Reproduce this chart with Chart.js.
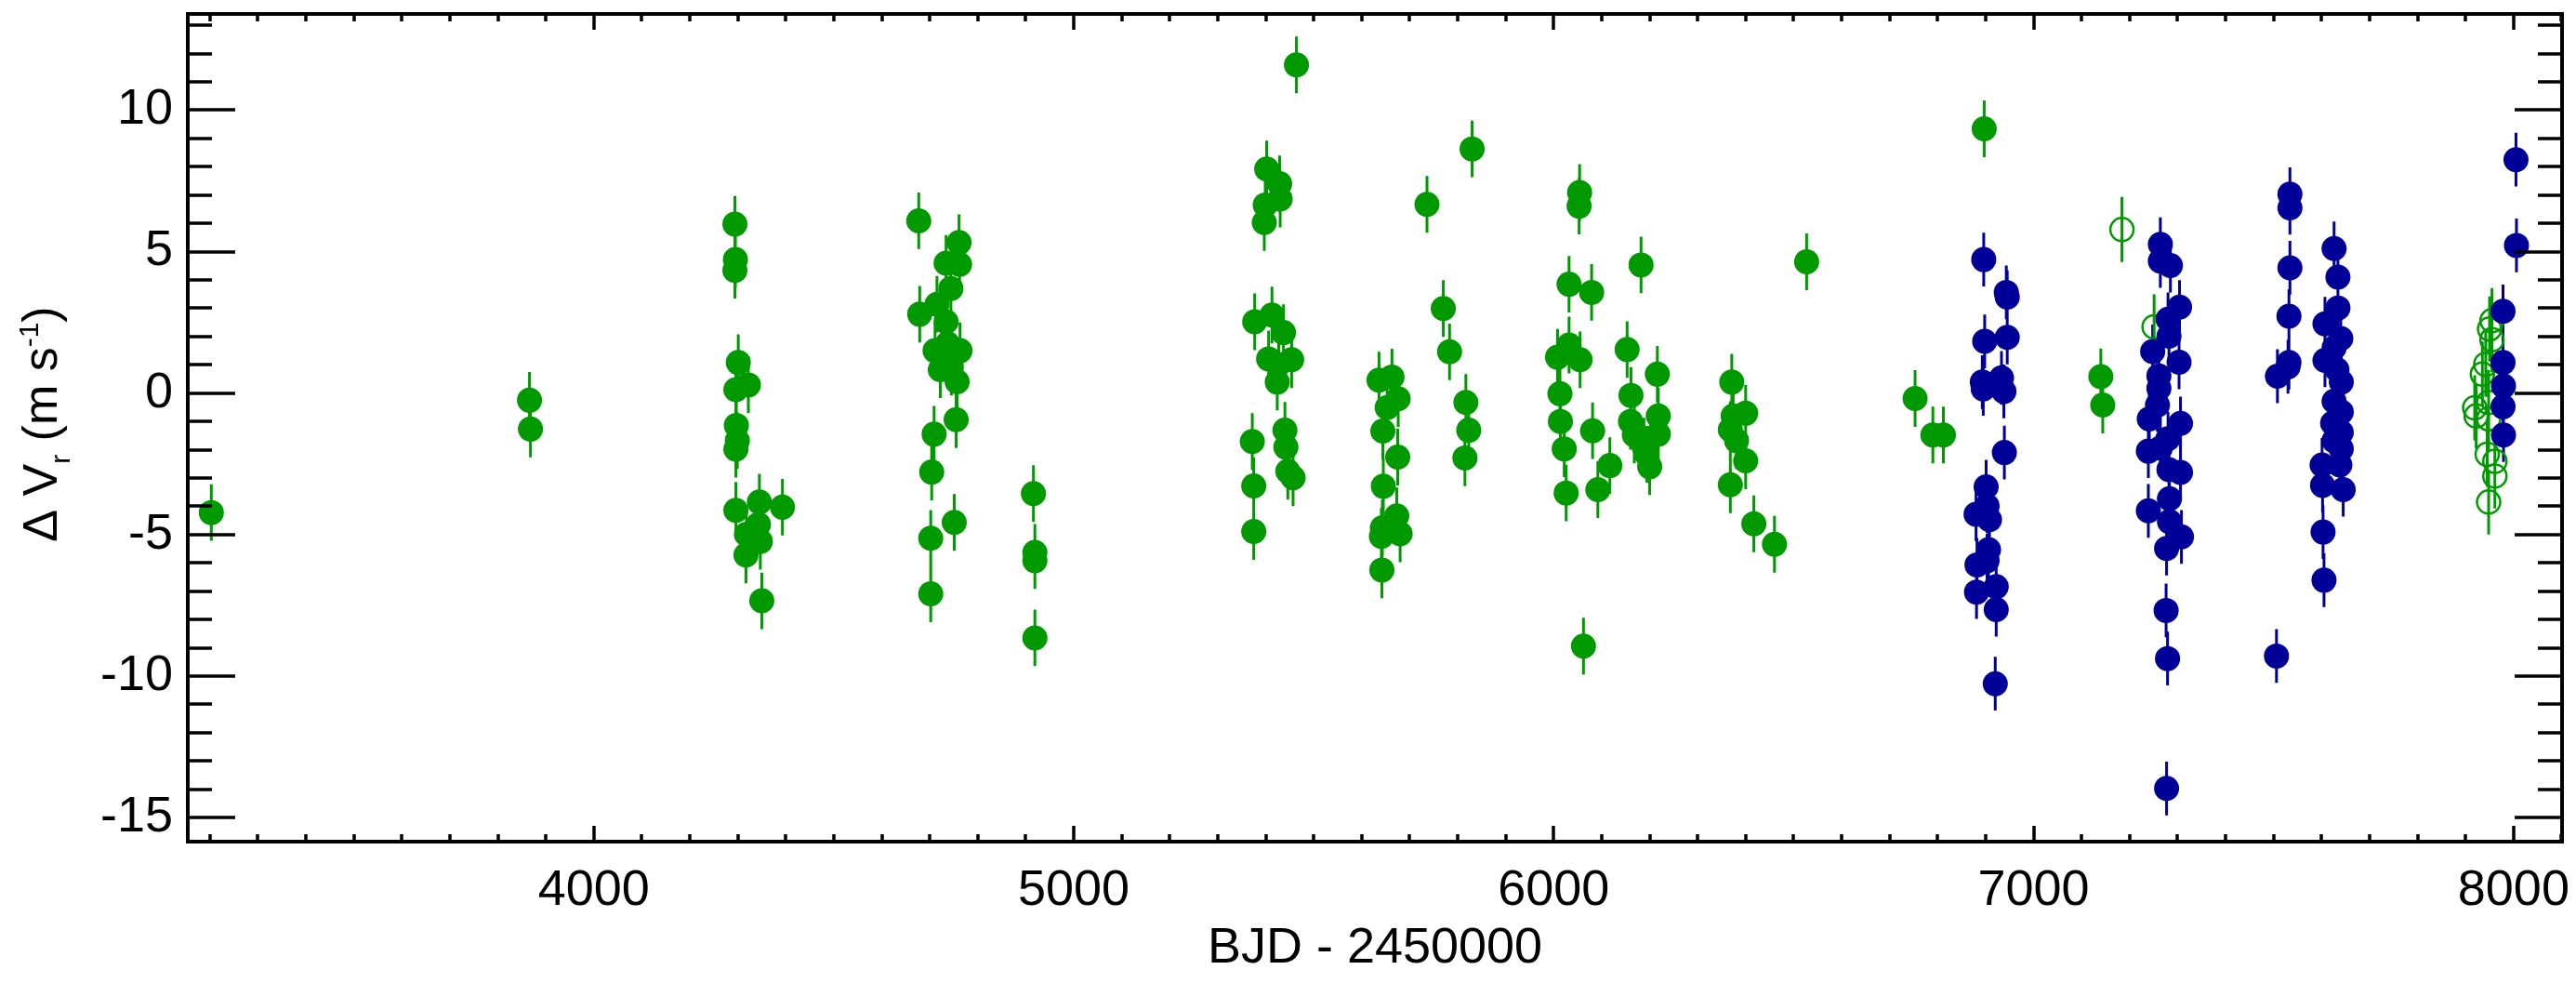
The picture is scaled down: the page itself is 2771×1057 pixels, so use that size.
<!DOCTYPE html>
<html>
<head>
<meta charset="utf-8">
<title>Radial velocity residuals</title>
<script src="https://cdn.jsdelivr.net/npm/chart.js@4.4.1/dist/chart.umd.min.js"></script>
<style>
  html, body { margin: 0; padding: 0; background: #fff; }
  canvas { display: block; }
</style>
</head>
<body>
<canvas id="rv" width="2771" height="1057"></canvas>
<script>
// ── DATA ──
const xTicks = [4000, 5000, 6000, 7000, 8000];
const yTicks = [-15, -10, -5, 0, 5, 10];

// filled green points
const greenX = [
  3203, 3866, 3868,
  4294, 4295, 4294, 4301, 4296, 4322, 4297, 4299, 4296, 4296, 4345, 4393, 4318, 4343, 4347, 4317, 4350,
  4677, 4761, 4734, 4762, 4744, 4715, 4679, 4734, 4711, 4737, 4763, 4722, 4745, 4757, 4709, 4755, 4704, 4702, 4751, 4702,
  4916, 4919, 4919, 4919,
  5464, 5402, 5429, 5430, 5399, 5397, 5377, 5413, 5437, 5406, 5427, 5454, 5424, 5372, 5440, 5442, 5446, 5457, 5375, 5375,
  5636, 5663, 5676, 5653, 5644, 5675, 5645, 5673, 5643, 5641, 5680, 5642,
  5736, 5830, 5770, 5783, 5817, 5823, 5815,
  6054, 6053, 6032, 6079, 6182, 6008, 6032, 6055, 6013, 6014, 6022, 6026, 6081, 6117, 6092, 6062,
  6153, 6161, 6216, 6160, 6168, 6218, 6218, 6188, 6200, 6194,
  6371, 6374, 6400, 6368, 6381, 6400, 6368, 6417, 6460,
  6527, 6753, 6790, 6812, 6897, 7140, 7144
];
const greenY = [
  -4.22, -0.25, -1.27,
  5.97, 4.72, 4.34, 1.08, 0.12, 0.29, -1.14, -1.68, -1.98, -4.14, -3.85, -4.03, -4.99, -4.64, -5.24, -5.72, -7.34,
  6.09, 5.32, 4.59, 4.55, 3.70, 3.14, 2.79, 2.52, 1.50, 1.75, 1.50, 0.83, 0.92, 0.40, -1.45, -0.94, -2.79, -5.13, -4.57, -7.09,
  -3.55, -5.63, -5.92, -8.65,
  11.60, 7.92, 7.40, 6.86, 6.65, 6.03, 2.52, 2.76, 2.14, 1.21, 1.02, 1.18, 0.39, -1.71, -1.31, -1.91, -2.76, -2.99, -3.28, -4.89,
  0.46, 0.57, -0.20, -0.51, -1.34, -2.26, -3.29, -4.34, -4.76, -5.06, -4.97, -6.25,
  6.67, 8.63, 2.99, 1.46, -0.33, -1.31, -2.29,
  7.09, 6.61, 3.85, 3.56, 4.53, 1.27, 1.70, 1.18, -0.02, -1.00, -1.97, -3.53, -1.33, -2.56, -3.41, -8.94,
  1.54, -0.08, 0.67, -1.00, -1.48, -0.81, -1.45, -1.87, -2.60, -2.16,
  0.39, -0.81, -0.71, -1.29, -1.68, -2.39, -3.24, -4.62, -5.34,
  4.64, -0.19, -1.48, -1.48, 9.34, 0.58, -0.42
];

// filled blue points
const blueX = [
  6896, 6943, 6945, 6898, 6945, 6893, 6895, 6933, 6938, 6939, 6901, 6880, 6903, 6908, 6906, 6903, 6882, 6881, 6922, 6922, 6920,
  7264, 7264, 7285, 7304, 7280, 7282, 7248, 7303, 7261, 7261, 7258, 7241, 7306, 7280, 7264, 7239, 7282, 7306, 7283, 7239,
  7283, 7308, 7277, 7276, 7279, 7277,
  7534, 7534, 7534, 7532, 7532, 7530, 7508, 7506,
  7626, 7634, 7634, 7607, 7640, 7626, 7607, 7632, 7641, 7626, 7641, 7623, 7641, 7626, 7641, 7638, 7601, 7602, 7645, 7603, 7605,
  8005, 8006, 7978, 7978, 7979, 7978, 7979
];
const blueY = [
  4.72, 3.56, 3.39, 1.83, 1.97, 0.39, 0.15, 0.54, 0.06, -2.10, -3.31, -4.28, -3.99, -4.47, -5.53, -5.92, -6.07, -7.03, -6.84, -7.65, -10.27,
  5.26, 4.67, 4.51, 3.04, 2.61, 2.01, 1.47, 1.09, 0.61, 0.17, -0.42, -0.91, -1.07, -1.61, -1.94, -2.05, -2.70, -2.80, -3.73, -4.16,
  -4.54, -5.08, -5.49, -7.68, -9.38, -13.97,
  7.03, 6.55, 4.43, 2.72, 1.08, 0.93, 0.60, -9.29,
  5.11, 4.10, 3.01, 2.45, 1.93, 1.60, 1.16, 0.83, 0.39, -0.29, -0.67, -1.06, -1.39, -1.68, -1.97, -2.54, -2.54, -3.26, -3.41, -4.91, -6.61,
  8.25, 5.22, 2.89, 1.08, 0.25, -0.48, -1.48
];

// open green points
const openX = [7184, 7251, 7955, 7950, 7955, 7942, 7935, 7919, 7922, 7948, 7948, 7945, 7961, 7961, 7948];
const openY = [5.78, 2.34, 2.56, 2.27, 1.89, 1.02, 0.67, -0.52, -0.81, -0.33, -0.91, -2.16, -2.41, -2.93, -3.85];

// typical error bar half-lengths (m/s)
const greenErr = 1.0;
const blueErr = 0.95;
const openErr = 1.15;

const GREEN = '#009900';
const BLUE = '#000099';
const FONT = "'Liberation Sans', Arial, Helvetica, sans-serif";
const xMinor = 100, yMinor = 1;

const pts = (xs, ys) => xs.map((x, i) => ({ x, y: ys[i] }));

// ── ERROR BARS ──
const errorBars = {
  id: 'errorBars',
  beforeDatasetsDraw(chart) {
    const { ctx, scales: { x, y } } = chart;
    ctx.save();
    ctx.lineWidth = 3;
    chart.data.datasets.forEach(ds => {
      ctx.strokeStyle = ds.barColor;
      ctx.beginPath();
      ds.data.forEach(p => {
        const px = x.getPixelForValue(p.x);
        ctx.moveTo(px, y.getPixelForValue(p.y - ds.err));
        ctx.lineTo(px, y.getPixelForValue(p.y + ds.err));
      });
      ctx.stroke();
    });
    ctx.restore();
  }
};

// ── FRAME, INWARD TICKS, Y TITLE ──
const frame = {
  id: 'frame',
  afterDraw(chart) {
    const { ctx, chartArea: a, scales: { x, y } } = chart;
    ctx.save();
    ctx.strokeStyle = '#000';
    ctx.lineWidth = 3.5;
    ctx.beginPath();
    for (let v = Math.ceil(x.min / xMinor) * xMinor; v <= x.max; v += xMinor) {
      const px = Math.round(x.getPixelForValue(v));
      const len = xTicks.includes(v) ? 17 : 8;
      ctx.moveTo(px, a.bottom); ctx.lineTo(px, a.bottom - len);
      ctx.moveTo(px, a.top); ctx.lineTo(px, a.top + len);
    }
    for (let v = Math.ceil(y.min); v <= y.max; v += yMinor) {
      const py = Math.round(y.getPixelForValue(v));
      const len = yTicks.includes(v) ? 51 : 26;
      ctx.moveTo(a.left, py); ctx.lineTo(a.left + len, py);
      ctx.moveTo(a.right, py); ctx.lineTo(a.right - len, py);
    }
    ctx.stroke();
    ctx.lineWidth = 4;
    ctx.strokeRect(a.left, a.top, a.right - a.left, a.bottom - a.top);

    // y title: Δ V_r (m s^-1)
    const big = '52px ' + FONT, small = '30px ' + FONT;
    const parts = [
      { t: 'Δ V', f: big, dy: 0 },
      { t: 'r', f: small, dy: 14 },
      { t: ' (m s', f: big, dy: 0 },
      { t: '-1', f: small, dy: -20 },
      { t: ')', f: big, dy: 0 }
    ];
    ctx.fillStyle = '#000';
    ctx.textAlign = 'left';
    ctx.textBaseline = 'alphabetic';
    let total = 0;
    parts.forEach(p => { ctx.font = p.f; p.w = ctx.measureText(p.t).width; total += p.w; });
    ctx.translate(61, (a.top + a.bottom) / 2 - 4 + total / 2);
    ctx.rotate(-Math.PI / 2);
    let cx = 0;
    parts.forEach(p => { ctx.font = p.f; ctx.fillText(p.t, cx, p.dy); cx += p.w; });
    ctx.restore();
  }
};

// ── CHART ──
new Chart(document.getElementById('rv'), {
  type: 'scatter',
  data: {
    datasets: [
      { data: pts(blueX, blueY), err: blueErr, barColor: BLUE,
        pointRadius: 13.5, pointHoverRadius: 13.5, pointBackgroundColor: BLUE, pointBorderWidth: 0 },
      { data: pts(openX, openY), err: openErr, barColor: GREEN,
        pointRadius: 12.5, pointHoverRadius: 12.5, pointBackgroundColor: 'rgba(0,0,0,0)', pointBorderColor: GREEN, pointBorderWidth: 2.5 },
      { data: pts(greenX, greenY), err: greenErr, barColor: GREEN,
        pointRadius: 13.5, pointHoverRadius: 13.5, pointBackgroundColor: GREEN, pointBorderWidth: 0 }
    ]
  },
  options: {
    responsive: false,
    devicePixelRatio: 1,
    animation: false,
    layout: { padding: { top: 5, right: 7, bottom: 0, left: 0 } },
    plugins: { legend: { display: false }, tooltip: { enabled: false } },
    scales: {
      x: {
        type: 'linear', min: 3154, max: 8101,
        afterBuildTicks: s => { s.ticks = xTicks.map(v => ({ value: v })); },
        afterFit: s => { s.height = 152; s.paddingLeft = 0; s.paddingRight = 0; },
        grid: { display: false, drawTicks: false },
        border: { display: false },
        ticks: { padding: 21, color: '#000', font: { family: FONT, size: 54 }, maxRotation: 0, autoSkip: false, callback: v => String(v) },
        title: { display: true, text: 'BJD - 2450000', color: '#000', font: { family: FONT, size: 54 }, padding: { top: 0, bottom: 4 } }
      },
      y: {
        type: 'linear', min: -15.85, max: 13.4,
        afterBuildTicks: s => { s.ticks = yTicks.map(v => ({ value: v })); },
        afterFit: s => { s.width = 202; s.paddingTop = 0; s.paddingBottom = 0; },
        grid: { display: false, drawTicks: false },
        border: { display: false },
        ticks: { padding: 16, color: '#000', font: { family: FONT, size: 54 }, autoSkip: false, callback: v => String(v) }
      }
    }
  },
  plugins: [errorBars, frame]
});
</script>
</body>
</html>
